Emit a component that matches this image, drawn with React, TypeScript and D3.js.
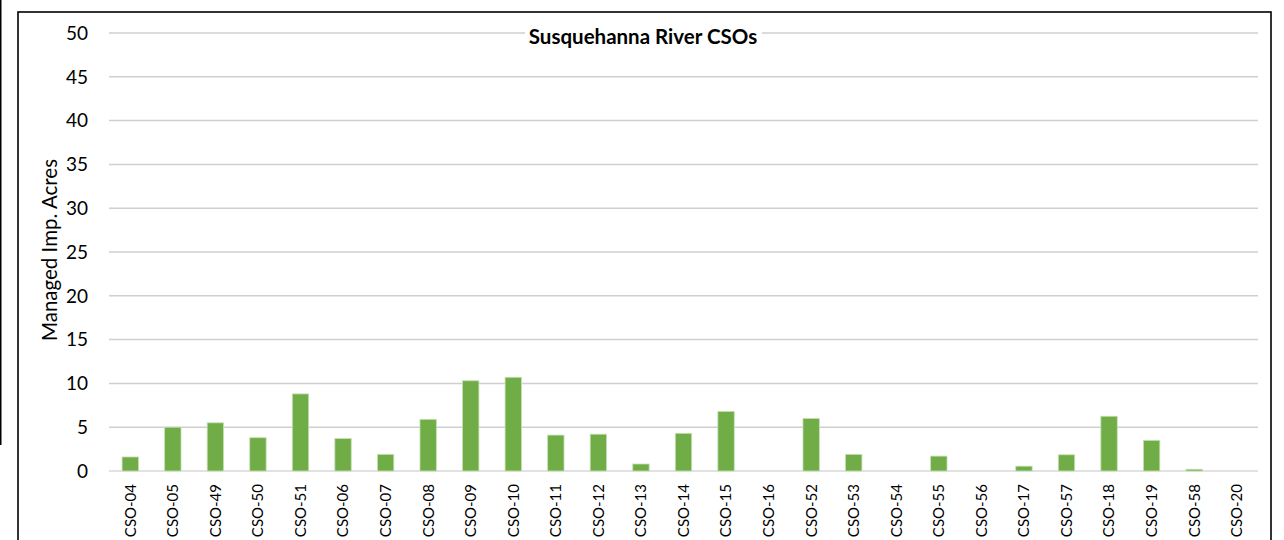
import React from "react";
import * as d3 from "d3";

const categories = [
  "CSO-04", "CSO-05", "CSO-49", "CSO-50", "CSO-51", "CSO-06", "CSO-07", "CSO-08", "CSO-09",
  "CSO-10", "CSO-11", "CSO-12", "CSO-13", "CSO-14", "CSO-15", "CSO-16", "CSO-52", "CSO-53",
  "CSO-54", "CSO-55", "CSO-56", "CSO-17", "CSO-57", "CSO-18", "CSO-19", "CSO-58", "CSO-20",
];
const values = [
  1.6, 5.0, 5.5, 3.8, 8.8, 3.7, 1.9, 5.9, 10.3,
  10.7, 4.1, 4.2, 0.8, 4.3, 6.8, 0, 6.0, 1.9,
  0, 1.7, 0, 0.55, 1.85, 6.25, 3.5, 0.2, 0,
];
const yTicks = [0, 5, 10, 15, 20, 25, 30, 35, 40, 45, 50];
const title = "Susquehanna River CSOs";
const yLabel = "Managed Imp. Acres";

const W = 1284;
const H = 540;
const FONT = "Lato, 'Open Sans', sans-serif";

export default function App() {
  const x = d3.scaleBand<string>().domain(categories).range([109, 1258]).paddingInner(0.615).paddingOuter(0.3075);
  const y = d3.scaleLinear().domain([0, 50]).range([471, 33]);
  return (
    <svg width={W} height={H} style={{ position: "absolute", left: 0, top: 0, background: "#fff" }} fontFamily={FONT}>
      <rect x={0} y={0} width={W} height={H} fill="#fff" />
      {/* left outer line */}
      <line x1={0.75} x2={0.75} y1={0} y2={445} stroke="#000" strokeWidth={1.5} />
      {/* frame */}
      <rect x={18} y={12} width={1253} height={H} fill="none" stroke="#000" strokeWidth={1.6} />
      {/* gridlines */}
      {yTicks.map((t) => (
        <line key={t} x1={109} x2={1258} y1={y(t)} y2={y(t)} stroke={t === 0 ? "#d9d9d9" : "#cfcfcf"} strokeWidth={1.5} />
      ))}
      {/* y tick labels */}
      {yTicks.map((t) => (
        <text key={"l" + t} x={88} y={y(t)} dy="0.36em" textAnchor="end" fontSize={19} fill="#000">
          {t}
        </text>
      ))}
      {/* bars */}
      {categories.map((c, i) => (
        values[i] > 0 ? (
          <rect
            key={c}
            x={x(c)!}
            y={y(values[i])}
            width={x.bandwidth()}
            height={y(0) - y(values[i])}
            fill="#70ad47"
            stroke="#c5e0b4"
            strokeWidth={0.8}
          />
        ) : null
      ))}
      {/* x labels */}
      {categories.map((c) => {
        const cx = x(c)! + x.bandwidth() / 2;
        return (
          <text key={"x" + c} transform={`translate(${cx},484) rotate(-90)`} textAnchor="end" dy="0.36em" fontSize={15} fill="#000">
            {c}
          </text>
        );
      })}
      {/* y axis label */}
      <text transform="translate(50,250) rotate(-90)" textAnchor="middle" dy="0.36em" fontSize={20.5} fill="#000">
        {yLabel}
      </text>
      {/* title */}
      <rect x={525} y={24} width={237} height={22} fill="#fff" />
      <text x={643} y={43.5} textAnchor="middle" fontSize={20.5} fontWeight="bold" fill="#000">
        {title}
      </text>
    </svg>
  );
}
